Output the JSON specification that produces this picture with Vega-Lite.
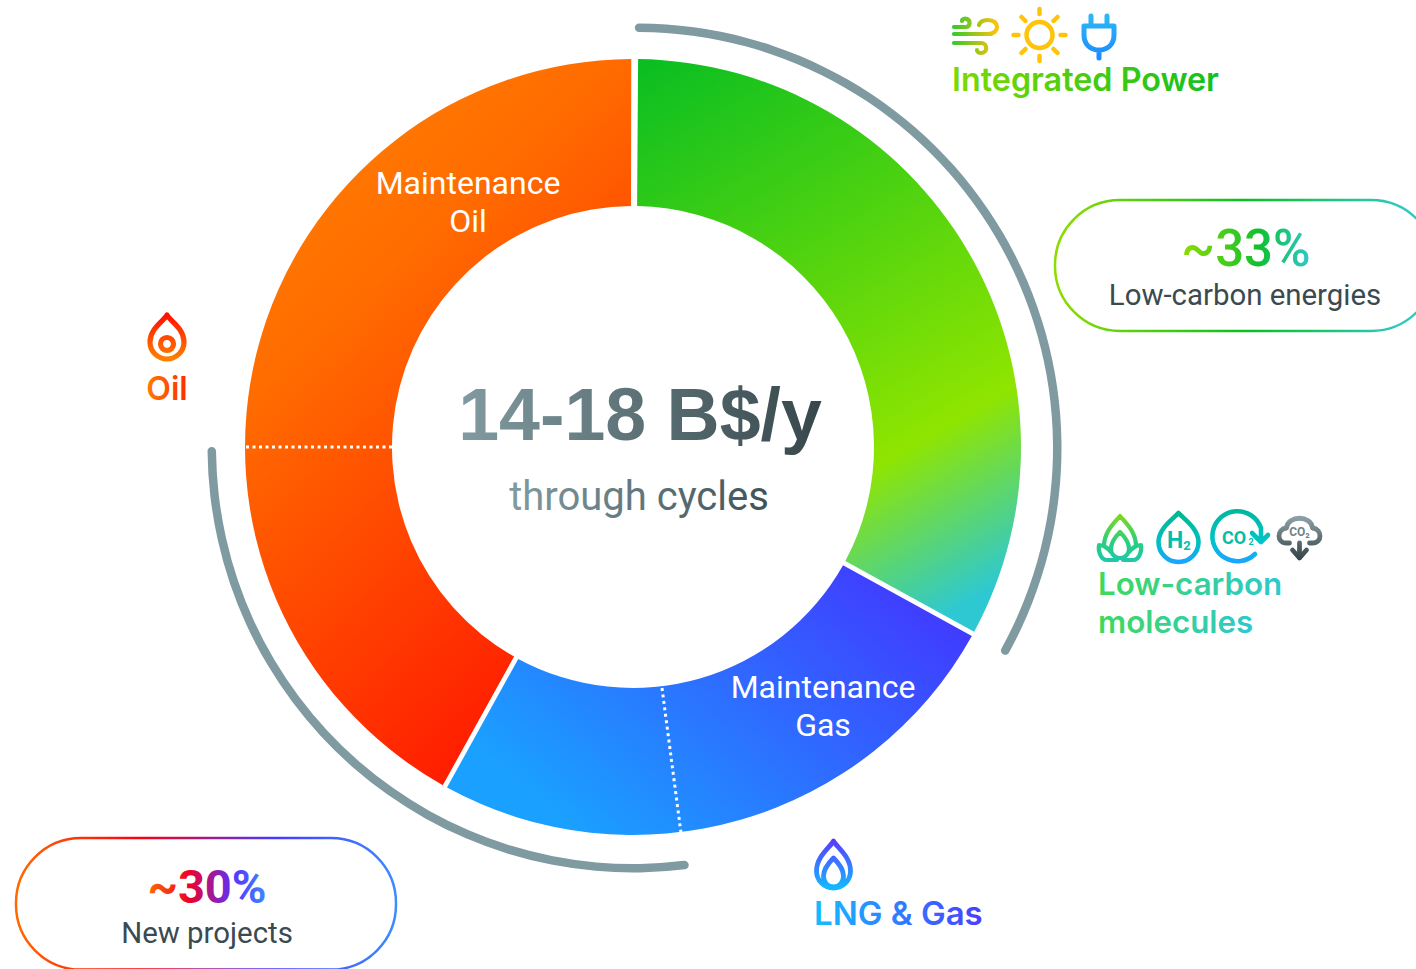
{
"$schema":"https://vega.github.io/schema/vega-lite/v6.json",
"width":1416,"height":969,"padding":0,"autosize":{"type":"none"},"background":"white",
"config":{"axis":{"disable":true},"legend":{"disable":true},"view":{"stroke":null}},
"layer":[
{"data":{"values":[{"segment":"Low-carbon energies","start":0.4,"end":118.8}]},
 "mark":{"type":"arc","radius":388,"radius2":241,"padAngle":0.0105,"fill":{"gradient":"linear","x1":0,"y1":0,"x2":0.45,"y2":1.15,"stops":[{"offset":0,"color":"#08be22"},{"offset":0.72,"color":"#8fe500"},{"offset":0.97,"color":"#2ec8d2"}]}},
 "encoding":{"theta":{"field":"start","type":"quantitative","stack":null,"scale":{"domain":[0,360],"range":[0,6.283185307]}},"theta2":{"field":"end"},"x":{"datum":633,"scale":{"domain":[0,1416],"range":[0,1416],"nice":false,"zero":false}},"y":{"datum":447,"scale":{"domain":[0,969],"range":[0,969],"nice":false,"zero":false}}}},
{"data":{"values":[{"segment":"Gas","start":118.8,"end":209}]},
 "mark":{"type":"arc","radius":388,"radius2":241,"padAngle":0.0105,"fill":{"gradient":"linear","x1":0,"y1":0.8,"x2":1,"y2":0.2,"stops":[{"offset":0.1,"color":"#1aa0ff"},{"offset":1,"color":"#4238ff"}]}},
 "encoding":{"theta":{"field":"start","type":"quantitative","stack":null,"scale":{"domain":[0,360],"range":[0,6.283185307]}},"theta2":{"field":"end"},"x":{"datum":633,"scale":{"domain":[0,1416],"range":[0,1416],"nice":false,"zero":false}},"y":{"datum":447,"scale":{"domain":[0,969],"range":[0,969],"nice":false,"zero":false}}}},
{"data":{"values":[{"segment":"Oil","start":209,"end":360.1}]},
 "mark":{"type":"arc","radius":388,"radius2":241,"padAngle":0.0105,"fill":{"gradient":"linear","x1":0,"y1":0,"x2":0.5,"y2":1,"stops":[{"offset":0.1,"color":"#ff8000"},{"offset":0.38,"color":"#ff6c00"},{"offset":1,"color":"#ff1e00"}]}},
 "encoding":{"theta":{"field":"start","type":"quantitative","stack":null,"scale":{"domain":[0,360],"range":[0,6.283185307]}},"theta2":{"field":"end"},"x":{"datum":633,"scale":{"domain":[0,1416],"range":[0,1416],"nice":false,"zero":false}},"y":{"datum":447,"scale":{"domain":[0,969],"range":[0,969],"nice":false,"zero":false}}}},
{"data":{"values":[{"bracket":"Low-carbon energies","start":-0.3,"end":119.4}]},
 "mark":{"type":"arc","radius":424.5,"radius2":416,"cornerRadius":4.25,"color":"#7f9aa0"},
 "encoding":{"theta":{"field":"start","type":"quantitative","stack":null,"scale":{"domain":[0,360],"range":[0,6.283185307]}},"theta2":{"field":"end"},"x":{"datum":637,"scale":{"domain":[0,1416],"range":[0,1416],"nice":false,"zero":false}},"y":{"datum":448,"scale":{"domain":[0,969],"range":[0,969],"nice":false,"zero":false}}}},
{"data":{"values":[{"bracket":"New projects","start":172.4,"end":270}]},
 "mark":{"type":"arc","radius":425.5,"radius2":417,"cornerRadius":4.25,"color":"#7f9aa0"},
 "encoding":{"theta":{"field":"start","type":"quantitative","stack":null,"scale":{"domain":[0,360],"range":[0,6.283185307]}},"theta2":{"field":"end"},"x":{"datum":633,"scale":{"domain":[0,1416],"range":[0,1416],"nice":false,"zero":false}},"y":{"datum":447,"scale":{"domain":[0,969],"range":[0,969],"nice":false,"zero":false}}}},
{"data":{"values":[{"divider":"Maintenance Oil"}]},"mark":{"type":"rule","color":"white","strokeWidth":3,"strokeDash":[3,3.5]},
 "encoding":{"x":{"datum":246,"scale":{"domain":[0,1416],"range":[0,1416],"nice":false,"zero":false}},"x2":{"datum":392},"y":{"datum":447,"scale":{"domain":[0,969],"range":[0,969],"nice":false,"zero":false}},"y2":{"datum":447}}},
{"data":{"values":[{"divider":"Maintenance Gas"}]},"mark":{"type":"rule","color":"white","strokeWidth":3,"strokeDash":[3,3.5]},
 "encoding":{"x":{"datum":662,"scale":{"domain":[0,1416],"range":[0,1416],"nice":false,"zero":false}},"x2":{"datum":681},"y":{"datum":688,"scale":{"domain":[0,969],"range":[0,969],"nice":false,"zero":false}},"y2":{"datum":833}}},
{"data":{"values":[{"pill":"Low-carbon energies"}]},"mark":{"type":"rect","clip":true,"cornerRadius":65,"fill":null,"strokeWidth":2.5,"stroke":{"gradient":"linear","x1":0,"y1":0,"x2":1,"y2":0,"stops":[{"offset":0,"color":"#8fdc00"},{"offset":0.5,"color":"#08c020"},{"offset":0.9,"color":"#2ec8c0"}]}},
 "encoding":{"x":{"datum":1055,"scale":{"domain":[0,1416],"range":[0,1416],"nice":false,"zero":false}},"x2":{"datum":1436},"y":{"datum":200,"scale":{"domain":[0,969],"range":[0,969],"nice":false,"zero":false}},"y2":{"datum":331}}},
{"data":{"values":[{"pill":"New projects"}]},"mark":{"type":"rect","clip":true,"cornerRadius":65,"fill":null,"strokeWidth":2.5,"stroke":{"gradient":"linear","x1":0,"y1":0,"x2":1,"y2":0,"stops":[{"offset":0,"color":"#ff6a00"},{"offset":0.33,"color":"#f80010"},{"offset":0.68,"color":"#4a38ff"},{"offset":1,"color":"#3a8cff"}]}},
 "encoding":{"x":{"datum":16,"scale":{"domain":[0,1416],"range":[0,1416],"nice":false,"zero":false}},"x2":{"datum":396},"y":{"datum":838,"scale":{"domain":[0,969],"range":[0,969],"nice":false,"zero":false}},"y2":{"datum":969.6}}},

{"data":{"values":[{"label":"Maintenance"}]},"mark":{"type":"text","font":"Roboto","fontSize":32,"align":"center","baseline":"alphabetic","color":"white"},
 "encoding":{"text":{"field":"label"},"x":{"datum":468,"scale":{"domain":[0,1416],"range":[0,1416],"nice":false,"zero":false}},"y":{"datum":194,"scale":{"domain":[0,969],"range":[0,969],"nice":false,"zero":false}}}},
{"data":{"values":[{"label":"Oil"}]},"mark":{"type":"text","font":"Roboto","fontSize":32,"align":"center","baseline":"alphabetic","color":"white"},
 "encoding":{"text":{"field":"label"},"x":{"datum":468,"scale":{"domain":[0,1416],"range":[0,1416],"nice":false,"zero":false}},"y":{"datum":232,"scale":{"domain":[0,969],"range":[0,969],"nice":false,"zero":false}}}},
{"data":{"values":[{"label":"Maintenance"}]},"mark":{"type":"text","font":"Roboto","fontSize":32,"align":"center","baseline":"alphabetic","color":"white"},
 "encoding":{"text":{"field":"label"},"x":{"datum":823,"scale":{"domain":[0,1416],"range":[0,1416],"nice":false,"zero":false}},"y":{"datum":698,"scale":{"domain":[0,969],"range":[0,969],"nice":false,"zero":false}}}},
{"data":{"values":[{"label":"Gas"}]},"mark":{"type":"text","font":"Roboto","fontSize":32,"align":"center","baseline":"alphabetic","color":"white"},
 "encoding":{"text":{"field":"label"},"x":{"datum":823,"scale":{"domain":[0,1416],"range":[0,1416],"nice":false,"zero":false}},"y":{"datum":736,"scale":{"domain":[0,969],"range":[0,969],"nice":false,"zero":false}}}},
{"data":{"values":[{"label":"14-18 B$/y"}]},"mark":{"type":"text","font":"Liberation Sans","fontWeight":"bold","fontSize":73.5,"align":"center","baseline":"alphabetic","fill":{"gradient":"linear","x1":0,"y1":0,"x2":1,"y2":0,"stops":[{"offset":0,"color":"#829ba1"},{"offset":1,"color":"#37474b"}]}},
 "encoding":{"text":{"field":"label"},"x":{"datum":640,"scale":{"domain":[0,1416],"range":[0,1416],"nice":false,"zero":false}},"y":{"datum":440,"scale":{"domain":[0,969],"range":[0,969],"nice":false,"zero":false}}}},
{"data":{"values":[{"label":"through cycles"}]},"mark":{"type":"text","font":"Roboto","fontSize":40,"align":"center","baseline":"alphabetic","fill":{"gradient":"linear","x1":0,"y1":0,"x2":1,"y2":0,"stops":[{"offset":0,"color":"#829ba1"},{"offset":1,"color":"#3f5257"}]}},
 "encoding":{"text":{"field":"label"},"x":{"datum":639,"scale":{"domain":[0,1416],"range":[0,1416],"nice":false,"zero":false}},"y":{"datum":510,"scale":{"domain":[0,969],"range":[0,969],"nice":false,"zero":false}}}},
{"data":{"values":[{"label":"Integrated Power"}]},"mark":{"type":"text","font":"Inter","fontWeight":600,"fontSize":32.3,"align":"left","baseline":"alphabetic","fill":{"gradient":"linear","x1":0,"y1":0,"x2":1,"y2":0,"stops":[{"offset":0,"color":"#7fd900"},{"offset":1,"color":"#12bf1e"}]}},
 "encoding":{"text":{"field":"label"},"x":{"datum":952,"scale":{"domain":[0,1416],"range":[0,1416],"nice":false,"zero":false}},"y":{"datum":91,"scale":{"domain":[0,969],"range":[0,969],"nice":false,"zero":false}}}},
{"data":{"values":[{"label":"Low-carbon"}]},"mark":{"type":"text","font":"Inter","fontWeight":600,"fontSize":31.3,"align":"left","baseline":"alphabetic","fill":{"gradient":"linear","x1":0,"y1":0,"x2":1,"y2":0,"stops":[{"offset":0,"color":"#3fd95a"},{"offset":1,"color":"#2ec8d0"}]}},
 "encoding":{"text":{"field":"label"},"x":{"datum":1098,"scale":{"domain":[0,1416],"range":[0,1416],"nice":false,"zero":false}},"y":{"datum":595,"scale":{"domain":[0,969],"range":[0,969],"nice":false,"zero":false}}}},
{"data":{"values":[{"label":"molecules"}]},"mark":{"type":"text","font":"Inter","fontWeight":600,"fontSize":31.3,"align":"left","baseline":"alphabetic","fill":{"gradient":"linear","x1":0,"y1":0,"x2":1,"y2":0,"stops":[{"offset":0,"color":"#3fd95a"},{"offset":1,"color":"#2ec8d0"}]}},
 "encoding":{"text":{"field":"label"},"x":{"datum":1098,"scale":{"domain":[0,1416],"range":[0,1416],"nice":false,"zero":false}},"y":{"datum":633,"scale":{"domain":[0,969],"range":[0,969],"nice":false,"zero":false}}}},
{"data":{"values":[{"label":"LNG & Gas"}]},"mark":{"type":"text","font":"Inter","fontWeight":600,"fontSize":33,"align":"left","baseline":"alphabetic","fill":{"gradient":"linear","x1":0,"y1":0,"x2":1,"y2":0,"stops":[{"offset":0,"color":"#14bdff"},{"offset":1,"color":"#4a3dff"}]}},
 "encoding":{"text":{"field":"label"},"x":{"datum":814,"scale":{"domain":[0,1416],"range":[0,1416],"nice":false,"zero":false}},"y":{"datum":925,"scale":{"domain":[0,969],"range":[0,969],"nice":false,"zero":false}}}},
{"data":{"values":[{"label":"Oil"}]},"mark":{"type":"text","font":"Inter","fontWeight":600,"fontSize":32,"align":"center","baseline":"alphabetic","fill":{"gradient":"linear","x1":0,"y1":0,"x2":1,"y2":0,"stops":[{"offset":0,"color":"#ff7d00"},{"offset":1,"color":"#ff2a00"}]}},
 "encoding":{"text":{"field":"label"},"x":{"datum":167,"scale":{"domain":[0,1416],"range":[0,1416],"nice":false,"zero":false}},"y":{"datum":400,"scale":{"domain":[0,969],"range":[0,969],"nice":false,"zero":false}}}},
{"data":{"values":[{"label":"~33%"}]},"mark":{"type":"text","font":"Roboto","fontWeight":500,"fontSize":51,"align":"center","baseline":"alphabetic","fill":{"gradient":"linear","x1":0,"y1":0,"x2":1,"y2":0,"stops":[{"offset":0,"color":"#8fdc00"},{"offset":0.6,"color":"#10c030"},{"offset":1,"color":"#2ec8d0"}]}},
 "encoding":{"text":{"field":"label"},"x":{"datum":1246,"scale":{"domain":[0,1416],"range":[0,1416],"nice":false,"zero":false}},"y":{"datum":266,"scale":{"domain":[0,969],"range":[0,969],"nice":false,"zero":false}}}},
{"data":{"values":[{"label":"Low-carbon energies"}]},"mark":{"type":"text","font":"Roboto","fontSize":29.4,"align":"center","baseline":"alphabetic","color":"#3b4a4f"},
 "encoding":{"text":{"field":"label"},"x":{"datum":1245,"scale":{"domain":[0,1416],"range":[0,1416],"nice":false,"zero":false}},"y":{"datum":305,"scale":{"domain":[0,969],"range":[0,969],"nice":false,"zero":false}}}},
{"data":{"values":[{"label":"~30%"}]},"mark":{"type":"text","font":"Roboto","fontWeight":"bold","fontSize":47,"align":"center","baseline":"alphabetic","fill":{"gradient":"linear","x1":0,"y1":0,"x2":1,"y2":0,"stops":[{"offset":0,"color":"#ff6a00"},{"offset":0.35,"color":"#f0002a"},{"offset":0.72,"color":"#5a30ff"},{"offset":1,"color":"#3a8cff"}]}},
 "encoding":{"text":{"field":"label"},"x":{"datum":207,"scale":{"domain":[0,1416],"range":[0,1416],"nice":false,"zero":false}},"y":{"datum":903,"scale":{"domain":[0,969],"range":[0,969],"nice":false,"zero":false}}}},
{"data":{"values":[{"label":"New projects"}]},"mark":{"type":"text","font":"Roboto","fontSize":29.4,"align":"center","baseline":"alphabetic","color":"#3b4a4f"},
 "encoding":{"text":{"field":"label"},"x":{"datum":207,"scale":{"domain":[0,1416],"range":[0,1416],"nice":false,"zero":false}},"y":{"datum":943,"scale":{"domain":[0,969],"range":[0,969],"nice":false,"zero":false}}}},

{"data":{"values":[{"icon":"wind"}]},"mark":{"type":"point","size":4,"opacity":1,"filled":false,"strokeWidth":4.2,"strokeCap":"round","strokeJoin":"round","shape":"M-21 -8 L-9 -8 C-5 -8 -4 -14 -8 -16 C-10 -17 -13 -16 -13 -14 M-21 -1 L13 -1 C25 -1 25 -15 13 -15 C8 -15 5 -13 4 -10 M-21 8 L6 8 C13 8 13 18 6 18 C4 18 2 17 2 15","stroke":{"gradient":"linear","x1":0,"y1":0,"x2":1,"y2":0,"stops":[{"offset":0,"color":"#39c92a"},{"offset":1,"color":"#ffc20a"}]}},
 "encoding":{"x":{"datum":975,"scale":{"domain":[0,1416],"range":[0,1416],"nice":false,"zero":false}},"y":{"datum":35,"scale":{"domain":[0,969],"range":[0,969],"nice":false,"zero":false}}}},
{"data":{"values":[{"icon":"sun"}]},"mark":{"type":"point","size":4,"opacity":1,"filled":false,"strokeWidth":4.5,"strokeCap":"round","strokeJoin":"round","shape":"M13 0 A13 13 0 1 1 -13 0 A13 13 0 1 1 13 0 M0 -26 L0 -21 M0 21 L0 26 M-26 0 L-21 0 M21 0 L26 0 M14 -14 L18 -18 M-14 -14 L-18 -18 M14 14 L18 18 M-14 14 L-18 18","stroke":"#ffc30a"},
 "encoding":{"x":{"datum":1039.5,"scale":{"domain":[0,1416],"range":[0,1416],"nice":false,"zero":false}},"y":{"datum":35,"scale":{"domain":[0,969],"range":[0,969],"nice":false,"zero":false}}}},
{"data":{"values":[{"icon":"plug"}]},"mark":{"type":"point","size":4,"opacity":1,"filled":false,"strokeWidth":5,"strokeCap":"round","strokeJoin":"round","shape":"M-8 -21 L-8 -11 M8 -21 L8 -11 M-15 -11 L15 -11 L15 -2 C15 8 8 13 0 13 C-8 13 -15 8 -15 -2 Z M0 13 L0 21","stroke":{"gradient":"linear","x1":0,"y1":0,"x2":0,"y2":1,"stops":[{"offset":0,"color":"#2bb7f5"},{"offset":1,"color":"#1c8cff"}]}},
 "encoding":{"x":{"datum":1099,"scale":{"domain":[0,1416],"range":[0,1416],"nice":false,"zero":false}},"y":{"datum":37,"scale":{"domain":[0,969],"range":[0,969],"nice":false,"zero":false}}}},
{"data":{"values":[{"icon":"oil drop"}]},"mark":{"type":"point","size":4,"opacity":1,"filled":false,"strokeWidth":5.2,"strokeCap":"round","strokeJoin":"round","shape":"M0 -27 C2 -22 17 -14 17 0 A17 17 0 0 1 -17 0 C-17 -14 -2 -22 0 -27 Z M6.5 2 A6.5 6.5 0 1 1 -6.5 2 A6.5 6.5 0 1 1 6.5 2","stroke":{"gradient":"linear","x1":0,"y1":0,"x2":0,"y2":1,"stops":[{"offset":0,"color":"#ff1000"},{"offset":1,"color":"#ff8000"}]}},
 "encoding":{"x":{"datum":167,"scale":{"domain":[0,1416],"range":[0,1416],"nice":false,"zero":false}},"y":{"datum":342,"scale":{"domain":[0,969],"range":[0,969],"nice":false,"zero":false}}}},
{"data":{"values":[{"icon":"gas flame"}]},"mark":{"type":"point","size":4,"opacity":1,"filled":false,"strokeWidth":4.8,"strokeCap":"round","strokeJoin":"round","shape":"M0 -29 C2 -24 17 -14 17 1 A17 17 0 0 1 -17 1 C-17 -14 -2 -24 0 -29 Z M0 -12 C4 -8 10 -1 10 6 C10 12 6 17 0 17 C-6 17 -10 12 -10 6 C-10 -1 -4 -8 0 -12 Z","stroke":{"gradient":"linear","x1":0,"y1":0,"x2":0,"y2":1,"stops":[{"offset":0,"color":"#5a3cff"},{"offset":1,"color":"#14b8ff"}]}},
 "encoding":{"x":{"datum":833.5,"scale":{"domain":[0,1416],"range":[0,1416],"nice":false,"zero":false}},"y":{"datum":870,"scale":{"domain":[0,969],"range":[0,969],"nice":false,"zero":false}}}},
{"data":{"values":[{"icon":"biofuel lotus"}]},"mark":{"type":"point","size":4,"opacity":1,"filled":false,"strokeWidth":4.2,"strokeCap":"round","strokeJoin":"round","shape":"M-16 6 C-16 -8 -6 -17 0 -24 C6 -17 16 -8 16 6 M0 -8 C5 -3 9 2 9 9 C9 14 5 18 0 18 C-5 18 -9 14 -9 9 C-9 2 -5 -3 0 -8 Z M-3 20 L-13 20 C-19 20 -22 12 -21 5 C-16 5 -11 9 -9 12 M3 20 L13 20 C19 20 22 12 21 5 C16 5 11 9 9 12","stroke":{"gradient":"linear","x1":0,"y1":0,"x2":0,"y2":1,"stops":[{"offset":0,"color":"#7cd820"},{"offset":0.6,"color":"#28cf80"},{"offset":1,"color":"#1fc8a8"}]}},
 "encoding":{"x":{"datum":1120,"scale":{"domain":[0,1416],"range":[0,1416],"nice":false,"zero":false}},"y":{"datum":540,"scale":{"domain":[0,969],"range":[0,969],"nice":false,"zero":false}}}},
{"data":{"values":[{"icon":"hydrogen drop"}]},"mark":{"type":"point","size":4,"opacity":1,"filled":false,"strokeWidth":4.6,"strokeCap":"round","strokeJoin":"round","shape":"M0 -28 C3 -24 20 -13 20 1 A20 20 0 0 1 -20 1 C-20 -13 -3 -24 0 -28 Z","stroke":{"gradient":"linear","x1":0,"y1":0,"x2":0,"y2":1,"stops":[{"offset":0,"color":"#00b894"},{"offset":0.6,"color":"#00c0c0"},{"offset":1,"color":"#1aa5ff"}]}},
 "encoding":{"x":{"datum":1178.5,"scale":{"domain":[0,1416],"range":[0,1416],"nice":false,"zero":false}},"y":{"datum":541,"scale":{"domain":[0,969],"range":[0,969],"nice":false,"zero":false}}}},
{"data":{"values":[{"label":"H"}]},"mark":{"type":"text","font":"Roboto","fontWeight":"bold","fontSize":23,"align":"center","baseline":"alphabetic","color":"#00bfae"},
 "encoding":{"text":{"field":"label"},"x":{"datum":1175,"scale":{"domain":[0,1416],"range":[0,1416],"nice":false,"zero":false}},"y":{"datum":548,"scale":{"domain":[0,969],"range":[0,969],"nice":false,"zero":false}}}},
{"data":{"values":[{"label":"2"}]},"mark":{"type":"text","font":"Roboto","fontWeight":"bold","fontSize":13,"align":"center","baseline":"alphabetic","color":"#00bfae"},
 "encoding":{"text":{"field":"label"},"x":{"datum":1187,"scale":{"domain":[0,1416],"range":[0,1416],"nice":false,"zero":false}},"y":{"datum":550,"scale":{"domain":[0,969],"range":[0,969],"nice":false,"zero":false}}}},
{"data":{"values":[{"icon":"carbon cycle"}]},"mark":{"type":"point","size":4,"opacity":1,"filled":false,"strokeWidth":4.6,"strokeCap":"round","strokeJoin":"round","shape":"M17 17 A25 25 0 1 1 23 -9 L23 3 M14 -4 L23 5 L30 -2","stroke":{"gradient":"linear","x1":0,"y1":0,"x2":0,"y2":1,"stops":[{"offset":0,"color":"#00b8a0"},{"offset":0.6,"color":"#00c4c8"},{"offset":1,"color":"#1aa5ff"}]}},
 "encoding":{"x":{"datum":1238,"scale":{"domain":[0,1416],"range":[0,1416],"nice":false,"zero":false}},"y":{"datum":537,"scale":{"domain":[0,969],"range":[0,969],"nice":false,"zero":false}}}},
{"data":{"values":[{"label":"CO"}]},"mark":{"type":"text","font":"Roboto","fontWeight":"bold","fontSize":18,"align":"center","baseline":"alphabetic","color":"#00bfae"},
 "encoding":{"text":{"field":"label"},"x":{"datum":1234,"scale":{"domain":[0,1416],"range":[0,1416],"nice":false,"zero":false}},"y":{"datum":544,"scale":{"domain":[0,969],"range":[0,969],"nice":false,"zero":false}}}},
{"data":{"values":[{"label":"2"}]},"mark":{"type":"text","font":"Roboto","fontWeight":"bold","fontSize":9,"align":"center","baseline":"alphabetic","color":"#00bfae"},
 "encoding":{"text":{"field":"label"},"x":{"datum":1251,"scale":{"domain":[0,1416],"range":[0,1416],"nice":false,"zero":false}},"y":{"datum":545,"scale":{"domain":[0,969],"range":[0,969],"nice":false,"zero":false}}}},
{"data":{"values":[{"icon":"carbon storage"}]},"mark":{"type":"point","size":4,"opacity":1,"filled":false,"strokeWidth":4.8,"strokeCap":"round","strokeJoin":"round","shape":"M-10 8 L-13 8 C-23 8 -23 -6 -13 -7 C-12 -20 12 -20 13 -7 C23 -6 23 8 13 8 L10 8 M0 8 L0 23 M-7 15 L0 23 L7 15","stroke":{"gradient":"linear","x1":0,"y1":0,"x2":0,"y2":1,"stops":[{"offset":0,"color":"#8a9ea3"},{"offset":1,"color":"#37474b"}]}},
 "encoding":{"x":{"datum":1299.5,"scale":{"domain":[0,1416],"range":[0,1416],"nice":false,"zero":false}},"y":{"datum":535,"scale":{"domain":[0,969],"range":[0,969],"nice":false,"zero":false}}}},
{"data":{"values":[{"label":"CO₂"}]},"mark":{"type":"text","font":"Roboto","fontWeight":"bold","fontSize":12,"align":"center","baseline":"alphabetic","color":"#6f8388"},
 "encoding":{"text":{"field":"label"},"x":{"datum":1299.5,"scale":{"domain":[0,1416],"range":[0,1416],"nice":false,"zero":false}},"y":{"datum":536,"scale":{"domain":[0,969],"range":[0,969],"nice":false,"zero":false}}}}
]
}
